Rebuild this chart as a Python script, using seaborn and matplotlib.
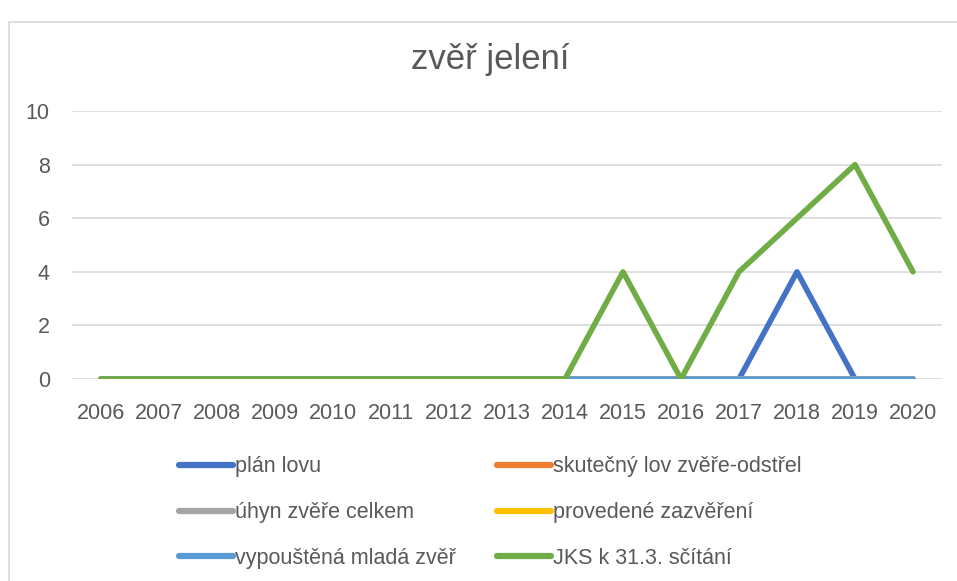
import pandas as pd
import matplotlib.pyplot as plt
import seaborn as sns
from matplotlib.patches import Rectangle
from matplotlib.lines import Line2D

years = list(range(2006, 2021))
plan_lovu = [0, 0, 0, 0, 0, 0, 0, 0, 0, 0, 0, 0, 4, 0, 0]
skutecny_lov = [0] * 15
uhyn = [0] * 15
zazvereni = [0] * 15
vypoustena = [0] * 15
jks = [0, 0, 0, 0, 0, 0, 0, 0, 0, 4, 0, 4, 6, 8, 4]

series = ['plán lovu', 'skutečný lov zvěře-odstřel', 'úhyn zvěře celkem',
          'provedené zazvěření', 'vypouštěná mladá zvěř', 'JKS k 31.3. sčítání']
values = [plan_lovu, skutecny_lov, uhyn, zazvereni, vypoustena, jks]
colors = ['#4472C4', '#ED7D31', '#A5A5A5', '#FFC000', '#5B9BD5', '#70AD47']

df = pd.concat([pd.DataFrame({'rok': years, 'hodnota': v, 'serie': s})
                for s, v in zip(series, values)], ignore_index=True)

sns.set_theme(style='white')
plt.rcParams['font.family'] = ['Liberation Sans', 'DejaVu Sans']
txt = '#595959'

fig = plt.figure(figsize=(9.57, 5.81), dpi=100)
ax = fig.add_axes([72 / 957, 1 - 379 / 581, 870 / 957, 268 / 581])

sns.lineplot(data=df, x='rok', y='hodnota', hue='serie', hue_order=series,
             palette=colors, linewidth=4, ax=ax, legend=False,
             solid_capstyle='round', solid_joinstyle='round')

ax.set_xlim(2005.5, 2020.5)
ax.set_ylim(0, 10)
ax.set_yticks(range(0, 11, 2))
ax.set_xticks(years)
ax.set_xticklabels([str(y) for y in years])
ax.grid(axis='y', color='#D9D9D9', linewidth=1.2)
ax.set_axisbelow(True)
for sp in ax.spines.values():
    sp.set_visible(False)
ax.tick_params(axis='both', length=0, labelsize=15.5, colors=txt)
ax.tick_params(axis='y', pad=16)
ax.tick_params(axis='x', pad=17)
ax.set_xlabel('')
ax.set_ylabel('')

fig.text(490 / 957, 1 - 59 / 581, 'zvěř jelení', ha='center', va='center',
         fontsize=25, color=txt)

# legend fills row by row like the original
order = [0, 2, 4, 1, 3, 5]
handles = [Line2D([0], [0], color=colors[i], linewidth=4.5, solid_capstyle='round') for i in order]
labels = [series[i] for i in order]
fig.legend(handles, labels, loc='upper left', ncol=2,
           bbox_to_anchor=(160 / 957, 1 - 437 / 581), frameon=False,
           fontsize=15.5, labelcolor=txt, handlelength=2.5, handletextpad=0.1,
           columnspacing=1.9, labelspacing=1.15)

fig.patches.append(Rectangle((9 / 957, -0.01), 1, 1 - 22 / 581 + 0.01,
                             transform=fig.transFigure, fill=False,
                             edgecolor='#D9D9D9', linewidth=1.2))

fig.savefig('out.png', dpi=100)
